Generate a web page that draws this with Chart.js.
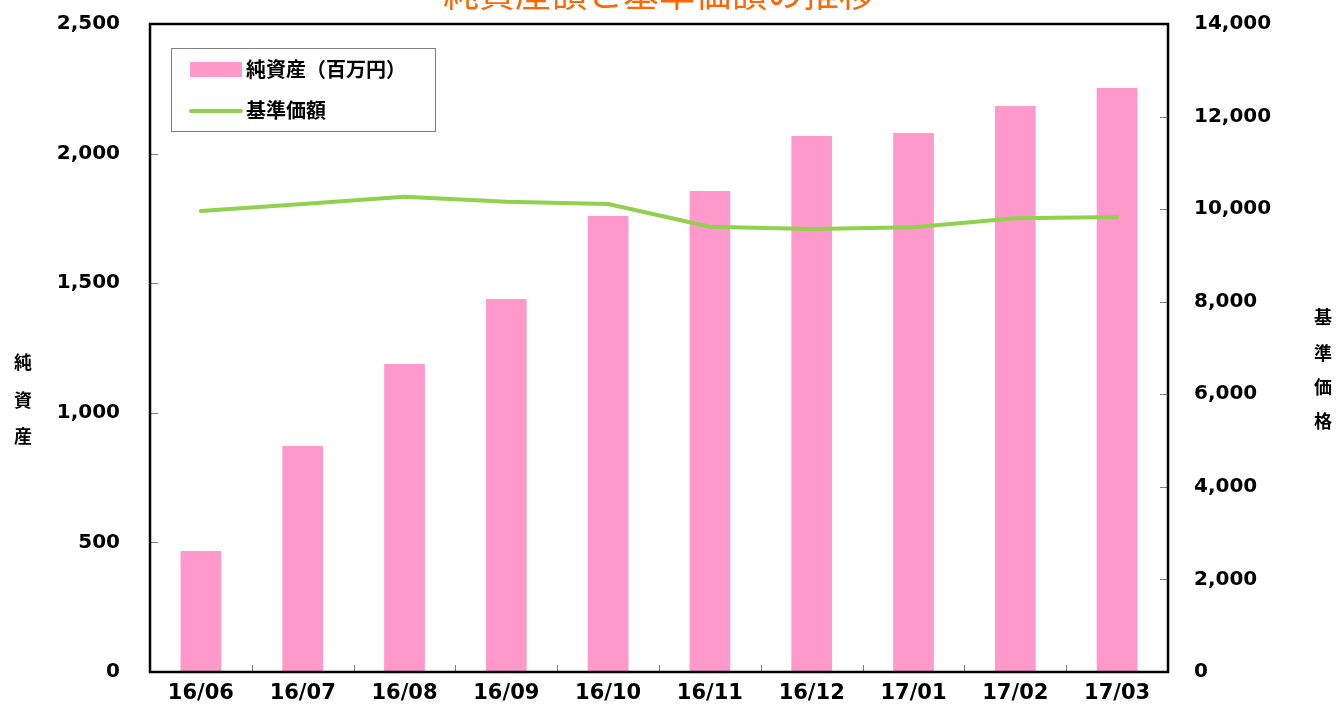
<!DOCTYPE html>
<html lang="ja">
<head>
<meta charset="utf-8">
<title>純資産額と基準価額の推移</title>
<script src="https://cdn.jsdelivr.net/npm/chart.js@4.4.1/dist/chart.umd.min.js"></script>
<style>
  html, body { margin: 0; padding: 0; background: #fff; }
  #wrap { width: 1336px; height: 706px; }
</style>
</head>
<body>
<div id="wrap"><canvas id="navChart" width="1336" height="706"></canvas></div>
<script>
// Data
const months = ['16/06', '16/07', '16/08', '16/09', '16/10', '16/11', '16/12', '17/01', '17/02', '17/03'];
const netAssets = [467, 872, 1188, 1439, 1759, 1856, 2068, 2079, 2184, 2253];   // 百万円
const navPrice = [9960, 10111, 10269, 10161, 10111, 9621, 9571, 9607, 9802, 9830]; // 円
const leftAxisMax = 2500;
const leftAxisStep = 500;
const rightAxisMax = 14000;
const rightAxisStep = 2000;

const chartTitle = '純資産額と基準価額の推移';
const leftAxisTitle = ['純', '資', '産'];
const rightAxisTitle = ['基', '準', '価', '格'];

const PINK = '#FF99CC';
const GREEN = '#92D050';
const TICK_FONT = { family: '"DejaVu Sans", Verdana, sans-serif', size: 20, weight: 'bold' };
const X_TICK_FONT = { family: '"DejaVu Sans", Verdana, sans-serif', size: 21, weight: 'bold' };
const JP_FONT = '"Noto Sans CJK JP", sans-serif';

// Frame, inside tick marks, title, axis titles and legend
const decorPlugin = {
    id: 'decor',
    afterDatasetsDraw(chart) {
        const ctx = chart.ctx;
        const area = chart.chartArea;
        const x = chart.scales.x;
        const yL = chart.scales.y;
        const yR = chart.scales.y1;
        ctx.save();

        // tick marks (inside the plot)
        ctx.strokeStyle = '#808080';
        ctx.lineWidth = 1;
        ctx.beginPath();
        yL.ticks.forEach(t => {
            const py = Math.round(yL.getPixelForValue(t.value)) + 0.5;
            ctx.moveTo(area.left, py);
            ctx.lineTo(area.left + 8, py);
        });
        yR.ticks.forEach(t => {
            const py = Math.round(yR.getPixelForValue(t.value)) + 0.5;
            ctx.moveTo(area.right - 8, py);
            ctx.lineTo(area.right, py);
        });
        for (let i = 0; i < months.length - 1; i++) {
            const px = Math.round((x.getPixelForValue(i) + x.getPixelForValue(i + 1)) / 2) + 0.5;
            ctx.moveTo(px, area.bottom);
            ctx.lineTo(px, area.bottom - 7);
        }
        ctx.stroke();

        // plot frame
        ctx.strokeStyle = '#000';
        ctx.lineWidth = 2.5;
        ctx.strokeRect(area.left, area.top, area.right - area.left, area.bottom - area.top);

        // title (partly above the canvas, as in the original)
        ctx.fillStyle = '#FF6600';
        ctx.font = '36px ' + JP_FONT;
        ctx.textAlign = 'center';
        ctx.textBaseline = 'middle';
        ctx.fillText(chartTitle, (area.left + area.right) / 2, -7);

        // axis titles, stacked characters
        ctx.fillStyle = '#000';
        ctx.font = 'bold 18px ' + JP_FONT;
        [362, 400, 436].forEach((py, i) => ctx.fillText(leftAxisTitle[i], 23, py));
        [317, 353, 387, 421].forEach((py, i) => ctx.fillText(rightAxisTitle[i], 1323, py));

        // legend
        const ds = chart.data.datasets;
        ctx.fillStyle = '#fff';
        ctx.fillRect(171, 48, 265, 84);
        ctx.strokeStyle = '#808080';
        ctx.lineWidth = 1;
        ctx.strokeRect(171.5, 48.5, 264, 83);
        ctx.fillStyle = ds[0].backgroundColor;
        ctx.fillRect(190, 62, 52, 15);
        ctx.strokeStyle = ds[1].borderColor;
        ctx.lineWidth = 4;
        ctx.lineCap = 'round';
        ctx.beginPath();
        ctx.moveTo(191, 111);
        ctx.lineTo(241, 111);
        ctx.stroke();
        ctx.fillStyle = '#000';
        ctx.font = 'bold 20px ' + JP_FONT;
        ctx.textAlign = 'left';
        ctx.fillText(ds[0].label, 246, 69);
        ctx.fillText(ds[1].label, 246, 110);

        ctx.restore();
    }
};

// fixed axis sizes so the plot area lands where the original has it
function fitVertical(width) {
    return s => {
        s.width = width;
        s.paddingTop = 0;
        s.paddingBottom = 0;
    };
}

function renderChart() {
    const ctx = document.getElementById('navChart').getContext('2d');
    new Chart(ctx, {
        data: {
            labels: months,
            datasets: [{
                type: 'bar',
                label: '純資産（百万円）',
                data: netAssets,
                yAxisID: 'y',
                backgroundColor: PINK,
                barPercentage: 0.4,
                categoryPercentage: 1.0,
                order: 2
            }, {
                type: 'line',
                label: '基準価額',
                data: navPrice,
                yAxisID: 'y1',
                borderColor: GREEN,
                borderWidth: 4,
                borderCapStyle: 'round',
                borderJoinStyle: 'round',
                pointRadius: 0,
                tension: 0,
                order: 1
            }]
        },
        options: {
            responsive: false,
            animation: false,
            layout: { padding: { top: 24, left: 0, right: 0, bottom: 0 } },
            scales: {
                x: {
                    grid: { display: false, drawTicks: false },
                    border: { display: false },
                    ticks: { color: '#000', font: X_TICK_FONT, padding: 9, maxRotation: 0 },
                    afterFit: s => {
                        s.height = 34;
                        s.paddingLeft = 0;
                        s.paddingRight = 0;
                    }
                },
                y: {
                    position: 'left',
                    min: 0,
                    max: leftAxisMax,
                    grid: { display: false, drawTicks: false },
                    border: { display: false },
                    ticks: {
                        stepSize: leftAxisStep,
                        color: '#000',
                        font: TICK_FONT,
                        padding: 30,
                        callback: v => v.toLocaleString('en-US')
                    },
                    afterFit: fitVertical(150)
                },
                y1: {
                    position: 'right',
                    min: 0,
                    max: rightAxisMax,
                    grid: { display: false, drawTicks: false },
                    border: { display: false },
                    ticks: {
                        stepSize: rightAxisStep,
                        color: '#000',
                        font: TICK_FONT,
                        padding: 26,
                        callback: v => v.toLocaleString('en-US')
                    },
                    afterFit: fitVertical(168)
                }
            },
            plugins: {
                legend: { display: false },
                title: { display: false },
                tooltip: { enabled: false }
            }
        },
        plugins: [decorPlugin]
    });
}

renderChart();
</script>
</body>
</html>
